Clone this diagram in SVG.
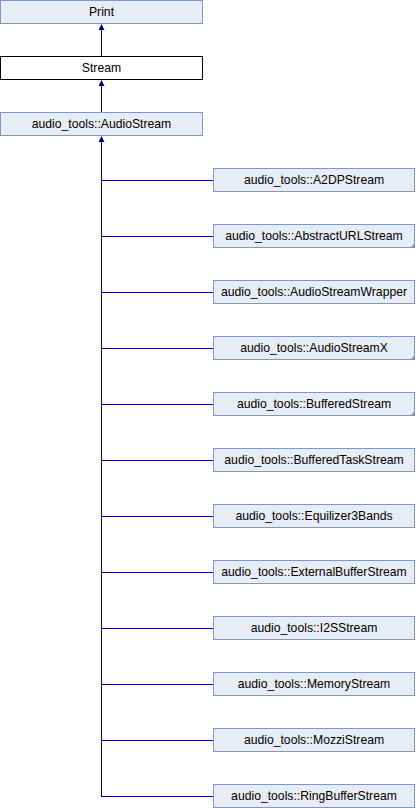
<svg xmlns="http://www.w3.org/2000/svg" width="416" height="808" viewBox="0 0 416 808">
<defs>
<style>
.n rect{fill:#E8ECF4;stroke:#7E97C8;stroke-width:1}
.w rect{fill:#FFFFFF;stroke:#000000;stroke-width:1}
text{font-family:"Liberation Sans",Arial,sans-serif;font-size:12.2px;fill:#000;text-anchor:middle}
.c line{stroke:#000080;stroke-width:1;fill:none}
.a{fill:#000080}
.t{fill:#7E97C8}
</style>
</defs>
<g id="connectors" class="c">
<polygon class="a" points="101.5,24 98.5,30 104.5,30"/>
<line x1="101.5" y1="30" x2="101.5" y2="56"/>
<polygon class="a" points="101.5,80 98.5,86 104.5,86"/>
<line x1="101.5" y1="86" x2="101.5" y2="112"/>
<polygon class="a" points="101.5,136 98.5,142 104.5,142"/>
<line x1="101.5" y1="142" x2="101.5" y2="796.5"/>
<line x1="101" y1="180.5" x2="213" y2="180.5"/>
<line x1="101" y1="236.5" x2="213" y2="236.5"/>
<line x1="101" y1="292.5" x2="213" y2="292.5"/>
<line x1="101" y1="348.5" x2="213" y2="348.5"/>
<line x1="101" y1="404.5" x2="213" y2="404.5"/>
<line x1="101" y1="460.5" x2="213" y2="460.5"/>
<line x1="101" y1="516.5" x2="213" y2="516.5"/>
<line x1="101" y1="572.5" x2="213" y2="572.5"/>
<line x1="101" y1="628.5" x2="213" y2="628.5"/>
<line x1="101" y1="684.5" x2="213" y2="684.5"/>
<line x1="101" y1="740.5" x2="213" y2="740.5"/>
<line x1="101" y1="796.5" x2="213" y2="796.5"/>
</g>
<g id="Print" class="n"><rect x="0.5" y="0.5" width="202" height="23"/><text x="101.5" y="16">Print</text></g>
<g id="Stream" class="w"><rect x="0.5" y="56.5" width="202" height="23"/><text x="101.5" y="72">Stream</text></g>
<g id="AudioStream" class="n"><rect x="0.5" y="112.5" width="202" height="23"/><text x="101.5" y="128">audio_tools::AudioStream</text></g>
<g id="A2DPStream" class="n"><rect x="213.5" y="168.5" width="201" height="23"/><text x="314" y="184">audio_tools::A2DPStream</text></g>
<g id="AbstractURLStream" class="n"><rect x="213.5" y="224.5" width="201" height="23"/><text x="314" y="240">audio_tools::AbstractURLStream</text><polygon class="t" points="415,243 415,248 410,248"/></g>
<g id="AudioStreamWrapper" class="n"><rect x="213.5" y="280.5" width="201" height="23"/><text x="314" y="296">audio_tools::AudioStreamWrapper</text></g>
<g id="AudioStreamX" class="n"><rect x="213.5" y="336.5" width="201" height="23"/><text x="314" y="352">audio_tools::AudioStreamX</text><polygon class="t" points="415,355 415,360 410,360"/></g>
<g id="BufferedStream" class="n"><rect x="213.5" y="392.5" width="201" height="23"/><text x="314" y="408">audio_tools::BufferedStream</text><polygon class="t" points="415,411 415,416 410,416"/></g>
<g id="BufferedTaskStream" class="n"><rect x="213.5" y="448.5" width="201" height="23"/><text x="314" y="464">audio_tools::BufferedTaskStream</text></g>
<g id="Equilizer3Bands" class="n"><rect x="213.5" y="504.5" width="201" height="23"/><text x="314" y="520">audio_tools::Equilizer3Bands</text></g>
<g id="ExternalBufferStream" class="n"><rect x="213.5" y="560.5" width="201" height="23"/><text x="314" y="576">audio_tools::ExternalBufferStream</text></g>
<g id="I2SStream" class="n"><rect x="213.5" y="616.5" width="201" height="23"/><text x="314" y="632">audio_tools::I2SStream</text></g>
<g id="MemoryStream" class="n"><rect x="213.5" y="672.5" width="201" height="23"/><text x="314" y="688">audio_tools::MemoryStream</text></g>
<g id="MozziStream" class="n"><rect x="213.5" y="728.5" width="201" height="23"/><text x="314" y="744">audio_tools::MozziStream</text></g>
<g id="RingBufferStream" class="n"><rect x="213.5" y="784.5" width="201" height="23"/><text x="314" y="800">audio_tools::RingBufferStream</text></g>
</svg>
